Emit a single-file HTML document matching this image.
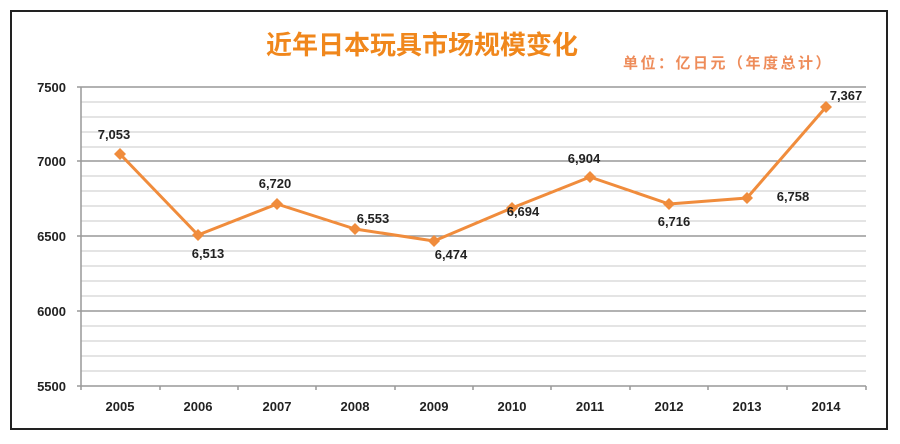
<!DOCTYPE html>
<html><head><meta charset="utf-8"><style>
body{margin:0;width:900px;height:439px;background:#fff;overflow:hidden}
</style></head><body>
<svg width="900" height="439" xmlns="http://www.w3.org/2000/svg" font-family="'Liberation Sans','Noto Sans CJK SC',sans-serif">
<rect x="11" y="11" width="876" height="418" fill="#fff" stroke="#222" stroke-width="2"/>
<text x="422" y="54" text-anchor="middle" font-size="26" font-weight="bold" fill="#F0871C">近年日本玩具市场规模变化</text>
<text x="623" y="68" font-size="15" font-weight="bold" fill="#EE8C5A" letter-spacing="2.5">单位：亿日元（年度总计）</text>
<g stroke="#c8c8c8" stroke-width="1">
<line x1="81" x2="866" y1="102" y2="102"/><line x1="81" x2="866" y1="117" y2="117"/><line x1="81" x2="866" y1="132" y2="132"/><line x1="81" x2="866" y1="147" y2="147"/>
<line x1="81" x2="866" y1="176" y2="176"/><line x1="81" x2="866" y1="191" y2="191"/><line x1="81" x2="866" y1="206" y2="206"/><line x1="81" x2="866" y1="221" y2="221"/>
<line x1="81" x2="866" y1="251" y2="251"/><line x1="81" x2="866" y1="266" y2="266"/><line x1="81" x2="866" y1="281" y2="281"/><line x1="81" x2="866" y1="296" y2="296"/>
<line x1="81" x2="866" y1="326" y2="326"/><line x1="81" x2="866" y1="341" y2="341"/><line x1="81" x2="866" y1="356" y2="356"/><line x1="81" x2="866" y1="371" y2="371"/>
</g>
<g stroke="#999" stroke-width="1.5">
<line x1="77" x2="866" y1="87" y2="87"/><line x1="77" x2="866" y1="161" y2="161"/><line x1="77" x2="866" y1="236" y2="236"/><line x1="77" x2="866" y1="311" y2="311"/>
<line x1="81" x2="81" y1="87" y2="390"/><line x1="77" x2="866" y1="386" y2="386"/>
<line x1="160" x2="160" y1="386" y2="390"/><line x1="238" x2="238" y1="386" y2="390"/><line x1="316" x2="316" y1="386" y2="390"/><line x1="395" x2="395" y1="386" y2="390"/><line x1="473" x2="473" y1="386" y2="390"/><line x1="551" x2="551" y1="386" y2="390"/><line x1="630" x2="630" y1="386" y2="390"/><line x1="708" x2="708" y1="386" y2="390"/><line x1="787" x2="787" y1="386" y2="390"/><line x1="866" x2="866" y1="386" y2="390"/>
</g>
<g font-size="13" font-weight="bold" fill="#222" text-anchor="end">
<text x="66" y="92">7500</text><text x="66" y="166">7000</text><text x="66" y="241">6500</text><text x="66" y="316">6000</text><text x="66" y="391">5500</text>
</g>
<g font-size="13" font-weight="bold" fill="#222" text-anchor="middle">
<text x="120" y="411">2005</text><text x="198" y="411">2006</text><text x="277" y="411">2007</text><text x="355" y="411">2008</text><text x="434" y="411">2009</text><text x="512" y="411">2010</text><text x="590" y="411">2011</text><text x="669" y="411">2012</text><text x="747" y="411">2013</text><text x="826" y="411">2014</text>
</g>
<polyline fill="none" stroke="#F08C3C" stroke-width="3" stroke-linejoin="round" points="120,154 198,235 277,204 355,229 434,241 512,208 590,177 669,204 747,198 826,107"/>
<g fill="#F08C3C">
<path d="M120,148l6,6l-6,6l-6,-6z"/><path d="M198,229l6,6l-6,6l-6,-6z"/><path d="M277,198l6,6l-6,6l-6,-6z"/><path d="M355,223l6,6l-6,6l-6,-6z"/><path d="M434,235l6,6l-6,6l-6,-6z"/><path d="M512,202l6,6l-6,6l-6,-6z"/><path d="M590,171l6,6l-6,6l-6,-6z"/><path d="M669,198l6,6l-6,6l-6,-6z"/><path d="M747,192l6,6l-6,6l-6,-6z"/><path d="M826,101l6,6l-6,6l-6,-6z"/>
</g>
<g font-size="13" font-weight="bold" fill="#222" text-anchor="middle">
<text x="114" y="139">7,053</text><text x="208" y="258">6,513</text><text x="275" y="188">6,720</text><text x="373" y="223">6,553</text><text x="451" y="259">6,474</text><text x="523" y="216">6,694</text><text x="584" y="163">6,904</text><text x="674" y="226">6,716</text><text x="793" y="201">6,758</text><text x="846" y="100">7,367</text>
</g>
</svg>
</body></html>
